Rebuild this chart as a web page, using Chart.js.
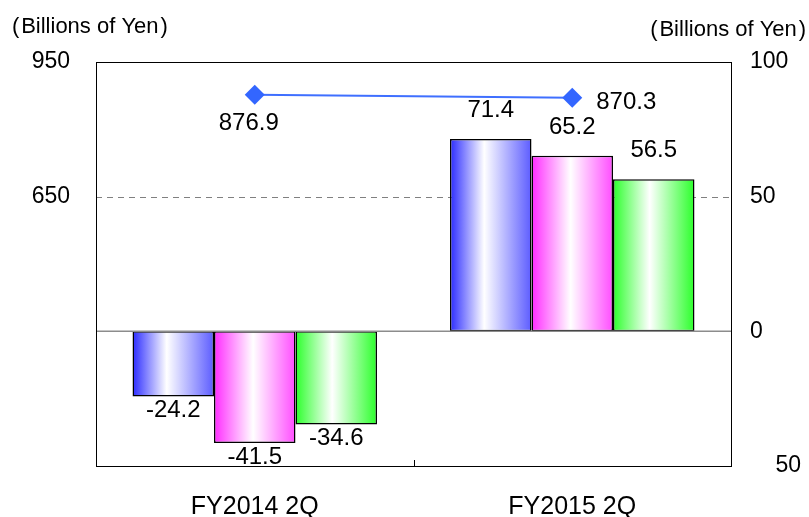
<!DOCTYPE html>
<html>
<head>
<meta charset="utf-8">
<script src="https://cdn.jsdelivr.net/npm/chart.js@4.4.1/dist/chart.umd.min.js"></script>
<style>
  html, body { margin: 0; padding: 0; background: #fff; }
  #wrap { width: 809px; height: 517px; }
</style>
</head>
<body>
<div id="wrap"><canvas id="chart" width="809" height="517"></canvas></div>
<script>
const categories = ['FY2014 2Q', 'FY2015 2Q'];
const lineValues = [876.9, 870.3];
const blueValues = [-24.2, 71.4];
const pinkValues = [-41.5, 65.2];
const greenValues = [-34.6, 56.5];
const leftTicks = [650, 950];
const rightTicks = [-50, 0, 50, 100];
const unitText = '(\u200aBillions of Yen\u200a)';

const FONT = '"Liberation Sans", Arial, sans-serif';

// horizontal shading for each bar series
const shades = {
  blue: [[0, '#2b2bff'], [0.42, '#ffffff'], [1, '#5c5cff']],
  pink: [[0, '#ff2bff'], [0.48, '#ffffff'], [1, '#ff4dff']],
  green: [[0, '#2bff2b'], [0.45, '#ffffff'], [1, '#2bff2b']]
};

const decor = {
  id: 'decor',
  beforeDatasetsDraw(chart) {
    const { ctx, chartArea: a, scales } = chart;
    ctx.save();
    ctx.strokeStyle = '#808080';
    ctx.lineWidth = 1;
    ctx.setLineDash([6, 5]);
    const y50 = Math.round(scales.y2.getPixelForValue(50)) + 0.5;
    ctx.beginPath(); ctx.moveTo(a.left, y50); ctx.lineTo(a.right, y50); ctx.stroke();
    ctx.restore();
    chart.data.datasets.forEach((ds, i) => {
      if (!ds.shade) return;
      chart.getDatasetMeta(i).data.forEach(el => {
        const g = ctx.createLinearGradient(el.x - el.width / 2, 0, el.x + el.width / 2, 0);
        ds.shade.forEach(s => g.addColorStop(s[0], s[1]));
        el.options.backgroundColor = g;
      });
    });
  },
  afterDatasetsDraw(chart) {
    const { ctx, chartArea: a, scales } = chart;
    ctx.save();
    // zero line
    ctx.strokeStyle = '#8c8c8c';
    ctx.lineWidth = 1.5;
    const y0 = scales.y2.getPixelForValue(0);
    ctx.beginPath(); ctx.moveTo(a.left, y0); ctx.lineTo(a.right, y0); ctx.stroke();
    // frame
    ctx.strokeStyle = '#000';
    ctx.lineWidth = 1;
    ctx.strokeRect(Math.round(a.left) + 0.5, Math.round(a.top) + 0.5,
      Math.round(a.right - a.left), Math.round(a.bottom - a.top));
    // category divider tick
    const xm = Math.round(scales.x.getPixelForValue(0.5)) + 0.5;
    ctx.beginPath(); ctx.moveTo(xm, a.bottom); ctx.lineTo(xm, a.bottom - 6); ctx.stroke();

    // value labels
    ctx.fillStyle = '#000';
    ctx.font = '24px ' + FONT;
    chart.data.datasets.forEach((ds, i) => {
      const meta = chart.getDatasetMeta(i);
      meta.data.forEach((el, j) => {
        const v = ds.data[j];
        if (ds.type === 'line') {
          if (j === 0) {
            ctx.textAlign = 'center'; ctx.textBaseline = 'top';
            ctx.fillText(v.toFixed(1), el.x - 6, el.y + 17);
          } else {
            ctx.textAlign = 'left'; ctx.textBaseline = 'middle';
            ctx.fillText(v.toFixed(1), el.x + 24, el.y + 5);
          }
        } else if (v >= 0) {
          ctx.textAlign = 'center'; ctx.textBaseline = 'alphabetic';
          ctx.fillText(v.toFixed(1), el.x, el.y - 22);
        } else {
          ctx.textAlign = 'center'; ctx.textBaseline = 'top';
          ctx.fillText(v.toFixed(1), el.x, el.y + 2);
        }
      });
    });
    // unit captions
    ctx.font = '22px ' + FONT;
    ctx.textBaseline = 'middle';
    ctx.textAlign = 'left';
    ctx.fillText(unitText, 12, 27);
    ctx.textAlign = 'right';
    ctx.fillText(unitText, 806, 30);
    ctx.restore();
  }
};

const barCommon = {
  type: 'bar',
  yAxisID: 'y2',
  borderColor: '#000',
  borderWidth: 1.5,
  borderSkipped: false,
  categoryPercentage: 0.77,
  barPercentage: 1.0
};

new Chart(document.getElementById('chart'), {
  data: {
    labels: categories,
    datasets: [
      {
        type: 'line', label: 'Line', data: lineValues, yAxisID: 'y',
        borderColor: '#3f6fff', borderWidth: 2,
        pointStyle: 'rectRot', pointRadius: 10, pointBorderWidth: 0,
        pointBackgroundColor: '#3366ff', order: 0
      },
      Object.assign({}, barCommon, { label: 'Blue', data: blueValues, shade: shades.blue, backgroundColor: () => '#6666ff', order: 1 }),
      Object.assign({}, barCommon, { label: 'Pink', data: pinkValues, shade: shades.pink, backgroundColor: () => '#ff66ff', order: 1 }),
      Object.assign({}, barCommon, { label: 'Green', data: greenValues, shade: shades.green, backgroundColor: () => '#66ff66', order: 1 })
    ]
  },
  options: {
    responsive: false,
    animation: false,
    devicePixelRatio: 1,
    layout: { padding: { top: 62, left: 0, right: 0, bottom: 0 } },
    plugins: { legend: { display: false }, tooltip: { enabled: false } },
    scales: {
      x: {
        grid: { display: false },
        border: { display: false },
        ticks: { color: '#000', font: { family: FONT, size: 25 }, padding: 18 },
        afterFit: s => { s.height = 51; }
      },
      y: {
        position: 'left', min: 50, max: 950,
        grid: { display: false },
        border: { display: false },
        afterBuildTicks: s => { s.ticks = leftTicks.map(v => ({ value: v })); },
        ticks: { color: '#000', font: { family: FONT, size: 23 }, padding: 18 },
        afterFit: s => { s.width = 96; }
      },
      y2: {
        position: 'right', min: -50, max: 100,
        grid: { display: false },
        border: { display: false },
        afterBuildTicks: s => { s.ticks = rightTicks.map(v => ({ value: v })); },
        ticks: {
          color: '#000', font: { family: FONT, size: 23 }, padding: 11,
          callback: v => (v < 0 ? '    ' + Math.abs(v) : String(v))
        },
        afterFit: s => { s.width = 78; }
      }
    }
  },
  plugins: [decor]
});
</script>
</body>
</html>
